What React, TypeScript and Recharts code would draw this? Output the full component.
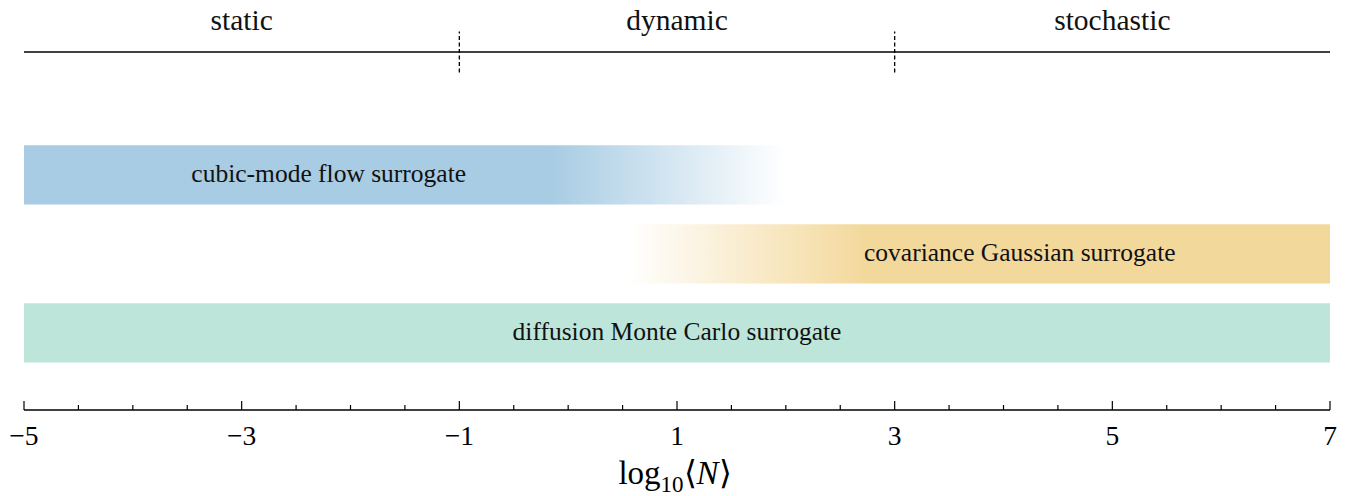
import React from 'react';
import { ComposedChart, XAxis, YAxis, ReferenceArea, ReferenceLine, ReferenceDot, Label } from 'recharts';

// ---- data ----
const xDomain: [number, number] = [-5, 7];
const tickValues = [-5, -4.5, -4, -3.5, -3, -2.5, -2, -1.5, -1, -0.5, 0, 0.5, 1, 1.5, 2, 2.5, 3, 3.5, 4, 4.5, 5, 5.5, 6, 6.5, 7];
const majorTicks = [-5, -3, -1, 1, 3, 5, 7];

const regimeNames = ['static', 'dynamic', 'stochastic'];
const regimeBounds = [-5, -1, 3, 7];

const surrogateNames = ['cubic-mode flow surrogate', 'covariance Gaussian surrogate', 'diffusion Monte Carlo surrogate'];
const surrogateStart = [-5, 0.55, -5];
const surrogateEnd = [2, 7, 7];
// fade: 'out' = opaque then fading to transparent, 'in' = transparent fading to opaque
const surrogateFade = ['out', 'in', 'none'];
const surrogateFadeFrom = [-0.17, 0.55, -5];
const surrogateFadeTo = [2, 2.75, 7];
const surrogateLabelX = [-2.2, 4.15, 1.0];
const surrogateColors = ['#a7cce3', '#f3d89b', '#bee5da'];

// ---- layout ----
const laneY = [2, 1, 0];
const laneHalf = 0.375;
const yDomain: [number, number] = [-0.975, 4.215];
const regimeLineY = 3.557;
const regimeTickHalf = 0.26;
const regimeLabelY = 3.84;
const FONT = "'Liberation Serif', 'Times New Roman', serif";

const fmt = (v: number) => (v < 0 ? `\u2212${Math.abs(v)}` : `${v}`);

const AxisTick = (props: any) => {
  const { x, y, payload } = props;
  const v = payload.value;
  const major = majorTicks.includes(v);
  return (
    <g>
      <line x1={x} x2={x} y1={y} y2={y - (major ? 9 : 5)} stroke="#000" strokeWidth={1.2} />
      {major && (
        <text x={x} y={y + 35} textAnchor="middle" fontFamily={FONT} fontSize={27.5} fill="#000">
          {fmt(v)}
        </text>
      )}
    </g>
  );
};

const centerOf = (vb: any) => ({
  cx: (vb?.x ?? 0) + (vb?.width ?? 0) / 2,
  cy: (vb?.y ?? 0) + (vb?.height ?? 0) / 2,
});

const makeTextLabel = (text: string, size: number, dy: number) => (props: any) => {
  const { cx, cy } = centerOf(props.viewBox);
  return (
    <text x={cx} y={cy + dy} textAnchor="middle" fontFamily={FONT} fontSize={size} fill="#111">
      {text}
    </text>
  );
};

const AxisTitle = (props: any) => {
  const vb = props.viewBox || {};
  const cx = vb.x + vb.width / 2;
  return (
    <text x={cx - 2} y={484} textAnchor="middle" fontFamily={FONT} fontSize={33} fill="#000">
      <tspan>log</tspan>
      <tspan fontSize={23} dy={8}>10</tspan>
      <tspan dy={-8}>{'\u27E8'}</tspan>
      <tspan fontStyle="italic">N</tspan>
      <tspan>{'\u27E9'}</tspan>
    </text>
  );
};

export default function App() {
  return (
    <div>
      <style>{`body{margin:0;overflow:hidden;background:#fff}`}</style>
      <ComposedChart width={1346} height={496} data={[]} margin={{ top: 0, right: 16, left: 24, bottom: 0 }}>
        <defs>
          {surrogateNames.map((_, i) => {
            const span = surrogateEnd[i] - surrogateStart[i];
            const a = (surrogateFadeFrom[i] - surrogateStart[i]) / span;
            const b = (surrogateFadeTo[i] - surrogateStart[i]) / span;
            const c = surrogateColors[i];
            if (surrogateFade[i] === 'out') {
              return (
                <linearGradient key={i} id={`grad${i}`} x1="0" y1="0" x2="1" y2="0">
                  <stop offset={0} stopColor={c} stopOpacity={1} />
                  <stop offset={a} stopColor={c} stopOpacity={1} />
                  <stop offset={b} stopColor={c} stopOpacity={0} />
                </linearGradient>
              );
            }
            if (surrogateFade[i] === 'in') {
              return (
                <linearGradient key={i} id={`grad${i}`} x1="0" y1="0" x2="1" y2="0">
                  <stop offset={a} stopColor={c} stopOpacity={0} />
                  <stop offset={b} stopColor={c} stopOpacity={1} />
                  <stop offset={1} stopColor={c} stopOpacity={1} />
                </linearGradient>
              );
            }
            return (
              <linearGradient key={i} id={`grad${i}`} x1="0" y1="0" x2="1" y2="0">
                <stop offset={0} stopColor={c} stopOpacity={1} />
                <stop offset={1} stopColor={c} stopOpacity={1} />
              </linearGradient>
            );
          })}
        </defs>
        <XAxis
          type="number"
          dataKey="x"
          domain={xDomain}
          ticks={tickValues}
          interval={0}
          allowDataOverflow
          tickSize={0}
          tickMargin={0}
          tickLine={false}
          tick={<AxisTick />}
          axisLine={{ stroke: '#000', strokeWidth: 1.4 }}
          height={86}
        >
          <Label content={<AxisTitle />} />
        </XAxis>
        <YAxis type="number" domain={yDomain} hide allowDataOverflow />

        {surrogateNames.map((name, i) => (
          <ReferenceArea
            key={name}
            x1={surrogateStart[i]}
            x2={surrogateEnd[i]}
            y1={laneY[i] - laneHalf}
            y2={laneY[i] + laneHalf}
            fill={`url(#grad${i})`}
            fillOpacity={1}
            stroke="none"
            ifOverflow="extendDomain"
          />
        ))}
        {surrogateNames.map((name, i) => (
          <ReferenceDot
            key={`lbl-${name}`}
            x={surrogateLabelX[i]}
            y={laneY[i]}
            r={0}
            fill="none"
            stroke="none"
            label={makeTextLabel(name, 25.5, 7)}
          />
        ))}

        <ReferenceLine
          segment={[{ x: regimeBounds[0], y: regimeLineY }, { x: regimeBounds[regimeBounds.length - 1], y: regimeLineY }]}
          stroke="#000"
          strokeWidth={1.4}
        />
        {regimeBounds.slice(1, -1).map((b) => (
          <ReferenceLine
            key={`rb-${b}`}
            segment={[{ x: b, y: regimeLineY - regimeTickHalf }, { x: b, y: regimeLineY + regimeTickHalf }]}
            stroke="#000"
            strokeWidth={1.3}
            strokeDasharray="4 2.5"
          />
        ))}
        {regimeNames.map((name, i) => (
          <ReferenceDot
            key={`rg-${name}`}
            x={(regimeBounds[i] + regimeBounds[i + 1]) / 2}
            y={regimeLabelY}
            r={0}
            fill="none"
            stroke="none"
            label={makeTextLabel(name, 29.5, 0)}
          />
        ))}
      </ComposedChart>
    </div>
  );
}
